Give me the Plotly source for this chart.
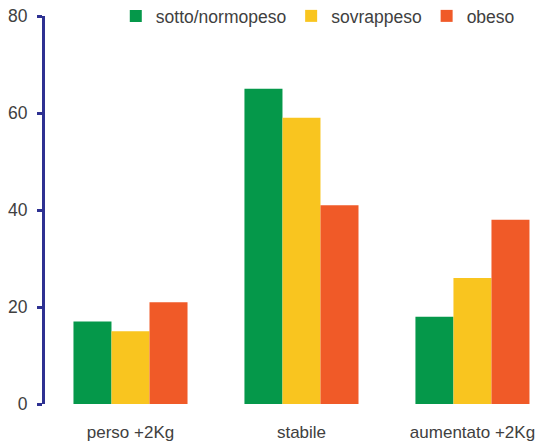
import plotly.graph_objects as go

categories = ["perso +2Kg", "stabile", "aumentato +2Kg"]
series_names = ["sotto/normopeso", "sovrappeso", "obeso"]
sotto_normopeso = [17, 65, 18]
sovrappeso = [15, 59, 26]
obeso = [21, 41, 38]
colors = ["#05984A", "#F9C51F", "#F05A28"]
y_ticks = [0, 20, 40, 60, 80]

fig = go.Figure()
for name, vals, c in zip(series_names, [sotto_normopeso, sovrappeso, obeso], colors):
    fig.add_trace(go.Bar(name=name, x=categories, y=vals, marker=dict(color=c, line=dict(width=0))))

fig.update_layout(
    width=540, height=441,
    barmode="group", bargap=0.333, bargroupgap=0,
    plot_bgcolor="white", paper_bgcolor="white",
    margin=dict(l=45, r=0, t=16, b=37, autoexpand=False),
    font=dict(family="Liberation Sans, Arial, sans-serif", size=17.5, color="#404040"),
    legend=dict(orientation="h", x=0.143, y=1.0, xanchor="left", yanchor="middle",
                font=dict(size=17.5, color="#404040"), bgcolor="rgba(0,0,0,0)",
                itemwidth=30),
    showlegend=True,
)
fig.update_xaxes(range=[-0.5, 2.395], showline=False, showgrid=False, ticks="",
                 automargin=False, ticklabelstandoff=16, ticklabeloverflow="allow",
                 tickfont=dict(size=17, color="#404040"))
fig.update_yaxes(range=[0, 80], tickvals=y_ticks, showgrid=False, zeroline=False,
                 automargin=False, ticklabeloverflow="allow",
                 showline=True, linecolor="#2E3192", linewidth=3,
                 ticks="outside", ticklen=5, tickwidth=3, tickcolor="#2E3192",
                 ticklabelstandoff=6,
                 tickfont=dict(size=17.5, color="#404040"))

# remove the browser's default 8px body margin so the 540x441 figure fills the window
fig.write_html("out.html", config={"displayModeBar": False},
               post_script="document.body.style.margin='0';")
